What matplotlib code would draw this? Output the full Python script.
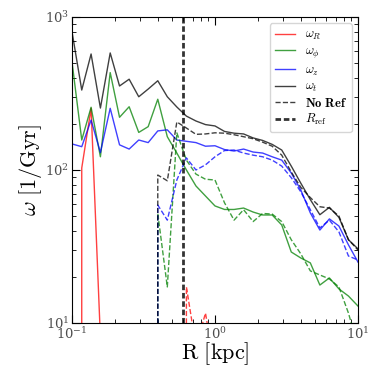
import matplotlib
matplotlib.use("Agg")
import matplotlib.pyplot as plt
import numpy as np

plt.rcParams['mathtext.fontset'] = 'cm'
plt.rcParams['font.family'] = 'serif'
plt.rcParams['font.serif'] = ['DejaVu Serif']

# radial bins [kpc]
R = [0.100, 0.117, 0.136, 0.158, 0.185, 0.215, 0.251, 0.293, 0.341, 0.398,
     0.464, 0.541, 0.631, 0.736, 0.858, 1.000, 1.166, 1.359, 1.585, 1.848,
     2.154, 2.512, 2.929, 3.415, 3.981, 4.642, 5.412, 6.310, 7.356, 8.577, 10.0]
R_ref = 0.6

# with reference frame
w_R = [0, 103, 253, 8, 0, 0, 0, 0, 0, 0, 0, 0, 0, 0, 0, 0,
       0, 0, 0, 0, 0, 0, 0, 0, 0, 0, 0, 0, 0, 0, 0]
w_phi = [510, 157, 257, 122, 433, 221, 259, 176, 192, 290, 165, 129, 100, 78.6,
         67.6, 58.2, 55.2, 55.2, 56.4, 53.1, 50.8, 50.8, 43.7, 29.1, 26.6, 24.7,
         17.7, 19.7, 16.7, 15.0, 12.9]
w_z = [148, 142, 212, 130, 253, 146, 137, 157, 151, 180, 183, 157, 154, 151,
       143, 144, 136, 133, 137, 131, 129, 122, 116, 95.5, 74, 52.4, 40.5, 47.9,
       43, 32.4, 25]
w_t = [802, 333, 573, 254, 582, 354, 392, 301, 338, 383, 301, 258, 225, 209,
       198, 194, 178.6, 174, 172, 162, 156, 147, 135, 106, 82, 64, 51, 57, 49,
       35, 30.5]

# no reference frame
w_R_nr = [0, 0, 0, 0, 0, 0, 0, 0, 0, 0, 0, 0, 17.2, 7, 11.6, 5,
          0, 0, 0, 0, 0, 0, 0, 0, 0, 0, 0, 0, 0, 0, 0]
w_phi_nr = [0, 0, 0, 0, 0, 0, 0, 0, 0, 52, 17.2, 175, 116, 94, 87, 86, 61, 47,
            55, 46, 52, 51.5, 46, 35, 28.3, 21.9, 20.6, 19.4, 17.2, 11.6, 7]
w_z_nr = [0, 0, 0, 0, 0, 0, 0, 0, 0, 59, 47, 86, 120, 100, 108, 122, 134, 135,
          129, 125, 122, 116, 106, 89, 72, 55, 41.8, 47, 39.4, 27.4, 25.8]
w_t_nr = [0, 0, 0, 0, 0, 0, 0, 0, 0, 92.7, 85, 206, 188, 171, 172, 175, 174,
          170, 165, 160, 152, 143, 125, 97, 77, 66, 57.5, 56.4, 50, 35, 30]

fig = plt.figure(figsize=(3.74, 3.74), dpi=100)
ax = fig.add_axes([0.1925, 0.1364, 0.7647, 0.8182])

a = 0.75
ax.plot(R, w_R, color='r', lw=1, alpha=a, label=r'$\omega_R$')
ax.plot(R, w_phi, color='g', lw=1, alpha=a, label=r'$\omega_\phi$')
ax.plot(R, w_z, color='b', lw=1, alpha=a, label=r'$\omega_z$')
ax.plot(R, w_t, color='k', lw=1, alpha=a, label=r'$\omega_t$')
ax.plot(R, w_R_nr, color='r', lw=1, ls='--', alpha=a)
ax.plot(R, w_phi_nr, color='g', lw=1, ls='--', alpha=a)
ax.plot(R, w_z_nr, color='b', lw=1, ls='--', alpha=a)
ax.plot(R, w_t_nr, color='k', lw=1, ls='--', alpha=a, label=r'$\mathbf{No\ Ref}$')
ax.axvline(R_ref, color='k', lw=2, ls=(0, (2, 1)), alpha=0.8, label=r'$R_{\rm ref}$')

ax.set_xscale('log')
ax.set_yscale('log')
ax.set_xlim(0.1, 10)
ax.set_ylim(10, 1000)
ax.set_xlabel(r'$\mathrm{R\ [kpc]}$', fontsize=16, labelpad=-1)
ax.set_ylabel(r'$\omega\ \mathrm{[1/Gyr]}$', fontsize=16, labelpad=1)
ax.tick_params(which='both', direction='in', top=True, right=True, labelsize=9.5,
               labelcolor='0.3', pad=2)
ax.tick_params(which='major', length=6)
ax.tick_params(which='minor', length=3)

ax.legend(loc='upper right', fontsize=9, handlelength=1.6, labelspacing=0.2,
          handletextpad=0.8, fancybox=True)

plt.savefig('out.png', dpi=100)
